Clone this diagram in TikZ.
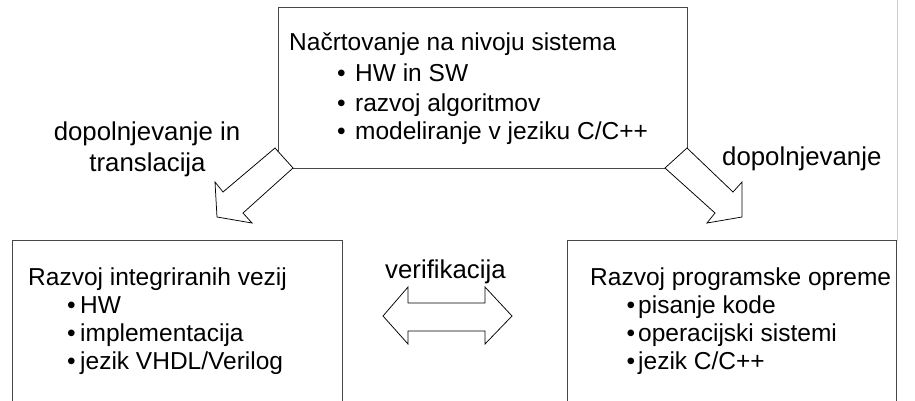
\documentclass[tikz,border=0pt]{standalone}
\usepackage{fontspec}
\setmainfont{Liberation Sans}
\begin{document}
\begin{tikzpicture}[x=1pt,y=-1pt,
  box/.style={draw=black!72,line width=1pt,fill=white},
  blockarrow/.style={draw=black,line width=0.75pt,fill=white,line join=miter},
  txt/.style={inner sep=0pt,anchor=base west,font=\fontsize{24.5}{28.2}\selectfont},
  lbl/.style={inner sep=0pt,anchor=base west,font=\fontsize{25.8}{29.5}\selectfont},
  clbl/.style={inner sep=0pt,anchor=base,font=\fontsize{25.8}{29.5}\selectfont},
  bul/.style={inner sep=0pt,anchor=base west,font=\fontsize{24.5}{28.2}\selectfont}]
\useasboundingbox (0,0) rectangle (915,400);
\clip (0,0) rectangle (915,400);

% faint guide line at the right
\draw[black!20,line width=0.8pt] (897,0) -- (897,241);

% the three boxes
\draw[box] (278,7) rectangle (687,168);
\draw[box] (12.7,240.7) rectangle (342.7,420);
\draw[box] (567.7,240.7) rectangle (896.7,420);

% block arrows
\draw[blockarrow] (275,148) -- (293,168) -- (243,213) -- (252,223) -- (217,217)
  -- (215,182) -- (223,192) -- cycle;
\draw[blockarrow] (687,148) -- (665,168) -- (715,213) -- (707,223) -- (742,217)
  -- (742,182) -- (733,192) -- cycle;
\draw[blockarrow] (383,316) -- (408,287) -- (408,303) -- (485,303) -- (485,287)
  -- (512,316) -- (485,344) -- (485,331) -- (408,331) -- (408,344) -- cycle;

% top box text
\node[txt] (t0) at (289,50) {Načrtovanje na nivoju sistema};
\node[bul] (tb1) at (337,81.5) {•};
\node[txt] (t1) at (355,81.5) {HW in SW};
\node[bul] (tb2) at (337,111) {•};
\node[txt] (t2) at (355,111) {razvoj algoritmov};
\node[bul] (tb3) at (337,139.5) {•};
\node[txt] (t3) at (355,139.5) {modeliranje v jeziku C/C++};

% left box text
\node[txt] (l0) at (28,285.5) {Razvoj integriranih vezij};
\node[bul] (lb1) at (67,313.5) {•};
\node[txt] (l1) at (80,313.5) {HW};
\node[bul] (lb2) at (67,341.7) {•};
\node[txt] (l2) at (80,341.7) {implementacija};
\node[bul] (lb3) at (67,369.5) {•};
\node[txt] (l3) at (80,369.5) {jezik VHDL/Verilog};

% right box text
\node[txt] (r0) at (590,285.5) {Razvoj programske opreme};
\node[bul] (rb1) at (626.5,313.5) {•};
\node[txt] (r1) at (638,313.5) {pisanje kode};
\node[bul] (rb2) at (626.5,341.7) {•};
\node[txt] (r2) at (638,341.7) {operacijski sistemi};
\node[bul] (rb3) at (626.5,369.5) {•};
\node[txt] (r3) at (638,369.5) {jezik C/C++};

% arrow labels
\node[clbl] (a1) at (147,140.7) {dopolnjevanje in};
\node[clbl] (a2) at (147.5,171.7) {translacija};
\node[lbl] (a3) at (722,165) {dopolnjevanje};
\node[lbl] (a4) at (385,278) {verifikacija};
\end{tikzpicture}
\end{document}
